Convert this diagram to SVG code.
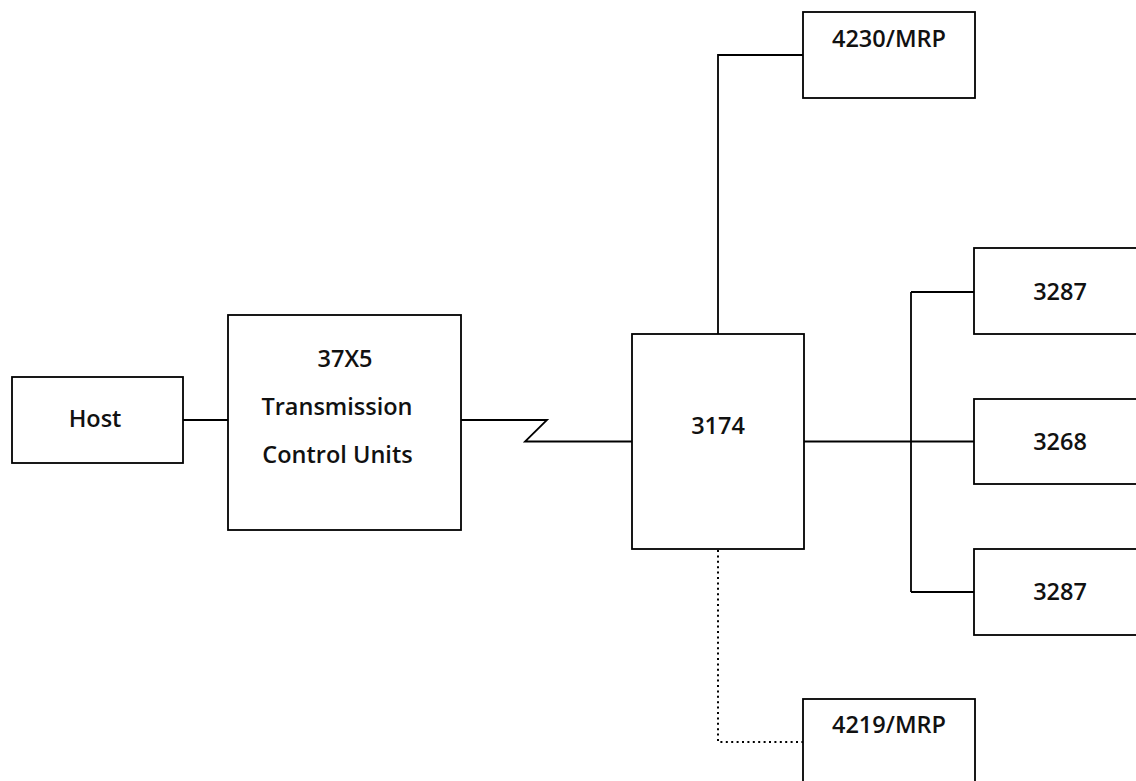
<svg xmlns="http://www.w3.org/2000/svg" width="1136" height="781" viewBox="0 0 1136 781">
<style>
.box{fill:#fff;stroke:#000;stroke-width:1.8}
.ln{fill:none;stroke:#000;stroke-width:1.8}
.dot{fill:none;stroke:#000;stroke-width:2;stroke-dasharray:2 3.4}
text{font-family:"Open Sans","Liberation Sans",sans-serif;font-weight:600;font-size:23.5px;fill:#111;text-anchor:middle}
</style>
<rect width="1136" height="781" fill="#fff"/>
<g id="connectors">
<path class="ln" d="M183,420 H228"/>
<path class="ln" d="M461,420 H547 L525,441.5 H632"/>
<path class="ln" d="M804,441.5 H974"/>
<path class="ln" d="M911,292 V592"/>
<path class="ln" d="M911,292 H974"/>
<path class="ln" d="M911,592 H974"/>
<path class="ln" d="M718,334 V55 H803"/>
<path class="dot" d="M718,550 V742 H803"/>
</g>
<g id="host"><rect class="box" x="12" y="377" width="171" height="86"/><text x="95" y="427">Host</text></g>
<g id="tcu"><rect class="box" x="228" y="315" width="233" height="215"/>
<text x="345" y="367">37X5</text>
<text x="337" y="415">Transmission</text>
<text x="337.5" y="463">Control Units</text></g>
<g id="n3174"><rect class="box" x="632" y="334" width="172" height="215"/><text x="718" y="434">3174</text></g>
<g id="n4230"><rect class="box" x="803" y="12" width="172" height="86"/><text x="889" y="47">4230/MRP</text></g>
<g id="n4219"><rect class="box" x="803" y="699" width="172" height="100"/><text x="889" y="733">4219/MRP</text></g>
<g id="n3287a"><rect class="box" x="974" y="248" width="180" height="86"/><text x="1060" y="300">3287</text></g>
<g id="n3268"><rect class="box" x="974" y="399" width="180" height="85"/><text x="1060" y="450">3268</text></g>
<g id="n3287b"><rect class="box" x="974" y="549" width="180" height="86"/><text x="1060" y="600">3287</text></g>
</svg>
